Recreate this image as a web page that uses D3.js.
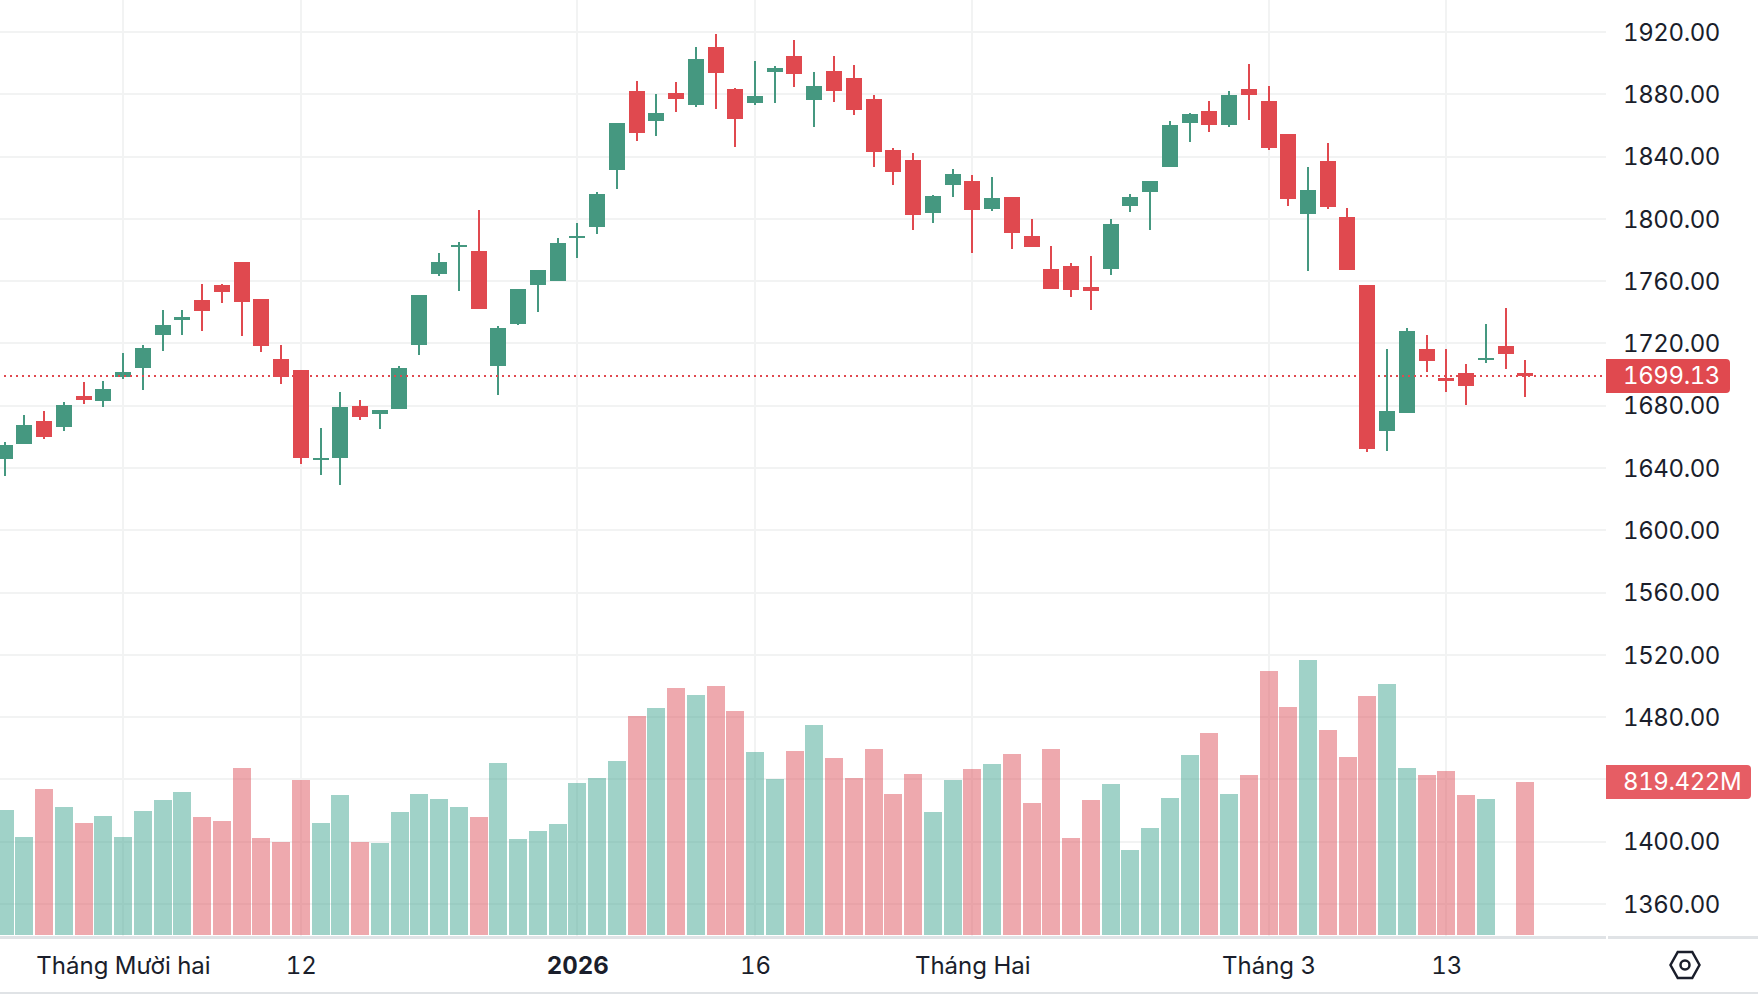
<!DOCTYPE html>
<html>
<head>
<meta charset="utf-8">
<script src="https://cdn.jsdelivr.net/npm/d3@7"></script>
<style>
   html, body { margin: 0; padding: 0; background: #fff; overflow: hidden; }
   svg { display: block; }
   text { font-family: Inter, "Noto Sans", sans-serif; font-variant-numeric: tabular-nums; }
</style>
</head>
<body>
<svg id="chart" width="1758" height="994"></svg>
<script>
var opens = [1645.7,1655.4,1670.2,1666.3,1686.2,1683.0,1698.4,1704.2,1725.4,1735.0,1747.9,1757.5,1772.3,1748.5,1710.0,1702.9,1645.1,1646.4,1679.8,1674.6,1677.9,1719.0,1764.6,1781.9,1779.3,1705.5,
   1732.5,1757.5,1760.1,1787.7,1794.7,1831.4,1882.1,1862.8,1880.8,1873.1,1910.4,1883.4,1874.4,1894.3,1904.6,1876.3,1894.9,1890.4,1877.0,1844.2,1837.8,1803.7,1821.7,1824.3,
   1806.3,1814.0,1788.9,1767.8,1769.7,1756.2,1767.8,1808.2,1817.2,1833.3,1861.5,1869.3,1860.3,1883.4,1875.7,1854.5,1803.1,1837.1,1801.2,1757.5,1663.7,1675.3,1716.4,1697.8,
   1701.0,1709.3,1718.3,1701.0];
var closes = [1654.7,1667.6,1659.9,1680.4,1683.6,1690.7,1701.6,1717.0,1731.8,1736.9,1740.8,1753.0,1746.6,1718.3,1698.4,1646.4,1646.4,1679.2,1672.7,1677.2,1704.2,1751.1,1772.3,1783.2,1742.1,1729.9,
   1754.9,1767.1,1784.5,1789.0,1815.9,1861.6,1855.1,1868.0,1877.0,1902.7,1893.7,1864.1,1878.9,1896.9,1893.0,1885.3,1882.1,1869.9,1842.9,1830.1,1802.5,1814.7,1828.8,1805.7,
   1813.4,1790.9,1781.9,1754.9,1754.3,1753.6,1796.7,1814.0,1824.3,1860.3,1867.3,1860.3,1879.5,1879.5,1845.5,1812.7,1818.5,1807.6,1767.1,1652.2,1676.6,1727.9,1708.7,1695.8,
   1692.6,1710.6,1713.2,1699.13];
var highs = [1656.7,1674.0,1676.6,1682.4,1695.2,1695.8,1713.8,1719.0,1741.5,1741.5,1758.1,1758.1,1772.3,1748.5,1719.0,1702.9,1665.7,1688.8,1683.6,1677.2,1705.5,1751.1,1778.1,1785.1,1805.7,1731.2,
   1754.9,1767.1,1787.7,1797.3,1817.2,1861.6,1888.5,1880.2,1887.9,1910.4,1918.7,1884.0,1901.4,1898.2,1914.9,1894.3,1904.6,1898.8,1879.5,1845.5,1842.3,1815.3,1832.0,1828.1,
   1826.9,1814.0,1799.9,1782.5,1771.6,1776.1,1799.9,1815.9,1824.3,1862.8,1868.0,1875.7,1882.1,1899.4,1885.3,1854.5,1833.3,1848.7,1806.9,1757.5,1716.4,1729.9,1725.4,1716.4,
   1706.8,1732.5,1742.7,1709.3];
var lows = [1634.8,1655.4,1658.6,1663.7,1681.1,1679.2,1697.1,1690.1,1715.1,1725.4,1727.9,1745.9,1724.7,1714.5,1693.9,1642.5,1635.5,1629.1,1670.8,1665.0,1677.9,1712.6,1763.3,1753.7,1742.1,1686.9,
   1731.8,1740.2,1760.1,1774.8,1790.2,1819.2,1850.0,1853.2,1868.6,1871.8,1870.5,1846.1,1873.1,1874.4,1884.7,1859.0,1875.0,1866.7,1833.3,1821.7,1792.8,1797.3,1814.0,1778.1,
   1805.0,1780.6,1781.9,1754.9,1749.8,1741.4,1763.9,1804.4,1792.8,1833.3,1849.3,1855.8,1859.0,1863.5,1844.2,1808.2,1766.5,1806.3,1767.1,1650.2,1650.9,1675.3,1701.6,1688.8,
   1680.4,1707.4,1703.6,1685.6];
// volume in millions, one candle has no volume
var volumes = [669,525,782,685,600,637,525,664,723,766,632,610,894,519,498,830,600,750,498,493,659,755,728,685,632,921,514,557,594,814,841,932,1173,1216,1323,1285,1333,1200,980,835,985,1125,948,841,996,755,862,659,830,889,916,969,707,996,519,723,809,455,573,734,964,1082,755,857,1414,1221,1473,1098,953,1280,1344,894,857,878,750,728,null,819.422];
var priceTicks = [1920,1880,1840,1800,1760,1720,1680,1640,1600,1560,1520,1480,1440,1400,1360];
var timeTicks = [6,15,29,38,49,64,73];
var timeLabels = ["Tháng Mười hai","12","2026","16","Tháng Hai","Tháng 3","13"];
var lastPrice = 1699.13;
var lastVolume = 819.422;

var width = 1758;
var paneRight = 1606;
var paneBottom = 936;
var upColor = "#459880";
var downColor = "#e0494f";
var textColor = "#1a1e2b";

var svg = d3.select("#chart");
var x = d3.scaleLinear().domain([0, opens.length - 1]).range([4.5, 1525.25]);
var y = d3.scaleLinear().domain([1360, 1920]).range([904, 32]);
var yVol = d3.scaleLinear().domain([0, lastVolume]).range([935, 782]);
var candles = d3.range(opens.length);

function candleColor(i){ return closes[i] >= opens[i] ? upColor : downColor; }

//Gridlines
svg.append("g").selectAll("line").data(priceTicks).enter().append("line")
   .attr("x1", 0).attr("x2", paneRight)
   .attr("y1", function(d){ return Math.round(y(d)); })
   .attr("y2", function(d){ return Math.round(y(d)); })
   .attr("stroke", "#f2f3f3").attr("stroke-width", 2);
svg.append("g").selectAll("line").data(timeTicks).enter().append("line")
   .attr("x1", function(d){ return Math.round(x(d)); })
   .attr("x2", function(d){ return Math.round(x(d)); })
   .attr("y1", 0).attr("y2", paneBottom)
   .attr("stroke", "#f2f3f3").attr("stroke-width", 2);

//Volume bars
svg.append("g").selectAll("rect")
   .data(candles.filter(function(i){ return volumes[i] !== null; }))
   .enter().append("rect")
   .attr("x", function(i){ return x(i) - 9; })
   .attr("width", 18)
   .attr("y", function(i){ return yVol(volumes[i]); })
   .attr("height", function(i){ return 935 - yVol(volumes[i]); })
   .attr("fill", function(i){ return closes[i] >= opens[i] ? "#41a591" : "#dd535d"; })
   .attr("fill-opacity", 0.5)
   .attr("shape-rendering", "crispEdges");

//Candles
var candle = svg.append("g").selectAll("g").data(candles).enter().append("g");
candle.append("rect")
   .attr("x", function(i){ return Math.round(x(i)) - 1; })
   .attr("width", 2)
   .attr("y", function(i){ return y(highs[i]); })
   .attr("height", function(i){ return y(lows[i]) - y(highs[i]); })
   .attr("fill", candleColor)
   .attr("shape-rendering", "crispEdges");
candle.append("rect")
   .attr("x", function(i){ return Math.round(x(i)) - 8; })
   .attr("width", 16)
   .attr("y", function(i){ return y(Math.max(opens[i], closes[i])); })
   .attr("height", function(i){ return Math.max(2, Math.abs(y(opens[i]) - y(closes[i]))); })
   .attr("fill", candleColor)
   .attr("shape-rendering", "crispEdges");

//Last price dotted line
svg.append("line")
   .attr("x1", 4).attr("x2", paneRight)
   .attr("y1", y(lastPrice)).attr("y2", y(lastPrice))
   .attr("stroke", downColor).attr("stroke-width", 2)
   .attr("stroke-dasharray", "2 4");

//Price axis
var priceAxis = d3.axisRight(y)
   .tickValues(priceTicks.filter(function(d){ return d !== 1440; }))
   .tickSize(0).tickPadding(0)
   .tickFormat(d3.format(".2f"));
var priceG = svg.append("g").attr("transform", "translate(1623,0)").call(priceAxis);
priceG.select(".domain").remove();
priceG.selectAll("text").attr("x", 0).attr("dy", "0.34em").attr("fill", textColor)
   .style("font-size", "24px").style("font-family", "Inter").style("letter-spacing", "-0.4px");

//Time axis
var timeAxis = d3.axisBottom(x)
   .tickValues(timeTicks)
   .tickSize(0).tickPadding(0)
   .tickFormat(function(d, i){ return timeLabels[i]; });
var timeG = svg.append("g").attr("transform", "translate(0,957)").call(timeAxis);
timeG.select(".domain").remove();
timeG.selectAll("text").attr("dy", "0.32em").attr("y", 9).attr("fill", textColor)
   .style("font-size", "24px").style("font-family", "Inter")
   .style("font-weight", function(d){ return d === 29 ? 700 : 400; });

//Axis borders
svg.append("rect").attr("x", 0).attr("y", paneBottom).attr("width", paneRight).attr("height", 3).attr("fill", "#e0e3e6");
svg.append("rect").attr("x", paneRight + 2).attr("y", paneBottom).attr("width", width - paneRight - 2).attr("height", 3).attr("fill", "#e0e3e6");
svg.append("rect").attr("x", 0).attr("y", 992).attr("width", width).attr("height", 2).attr("fill", "#e0e3e6");

//Last value labels
function valueLabel(cy, w, fill, label){
   var h = 34, r = 4, left = paneRight, top = cy - h / 2;
   svg.append("path")
      .attr("d", "M" + left + "," + top + "H" + (left + w - r) + "a" + r + "," + r + " 0 0 1 " + r + "," + r +
         "V" + (top + h - r) + "a" + r + "," + r + " 0 0 1 " + (-r) + "," + r + "H" + left + "Z")
      .attr("fill", fill);
   svg.append("text").attr("x", 1623).attr("y", cy).attr("dy", "0.33em")
      .attr("fill", "#fff").style("font-size", "24px").style("font-family", "Inter").style("letter-spacing", "-0.4px")
      .text(label);
}
valueLabel(y(lastPrice), 124, "#e0494f", d3.format(".2f")(lastPrice));
valueLabel(yVol(lastVolume), 145, "#e65d64", d3.format(".3f")(lastVolume) + "M");

//Settings icon
var iconX = 1685, iconY = 965;
var hexagon = d3.range(6).map(function(k){
   var a = k * Math.PI / 3;
   return [iconX + 14.5 * Math.cos(a), iconY + 13 / Math.sin(Math.PI / 3) * Math.sin(a)];
});
svg.append("path").attr("d", d3.line()(hexagon) + "Z")
   .attr("fill", "none").attr("stroke", textColor).attr("stroke-width", 2.5);
svg.append("circle").attr("cx", iconX).attr("cy", iconY).attr("r", 4.5)
   .attr("fill", "none").attr("stroke", textColor).attr("stroke-width", 2.5);
</script>
</body>
</html>
